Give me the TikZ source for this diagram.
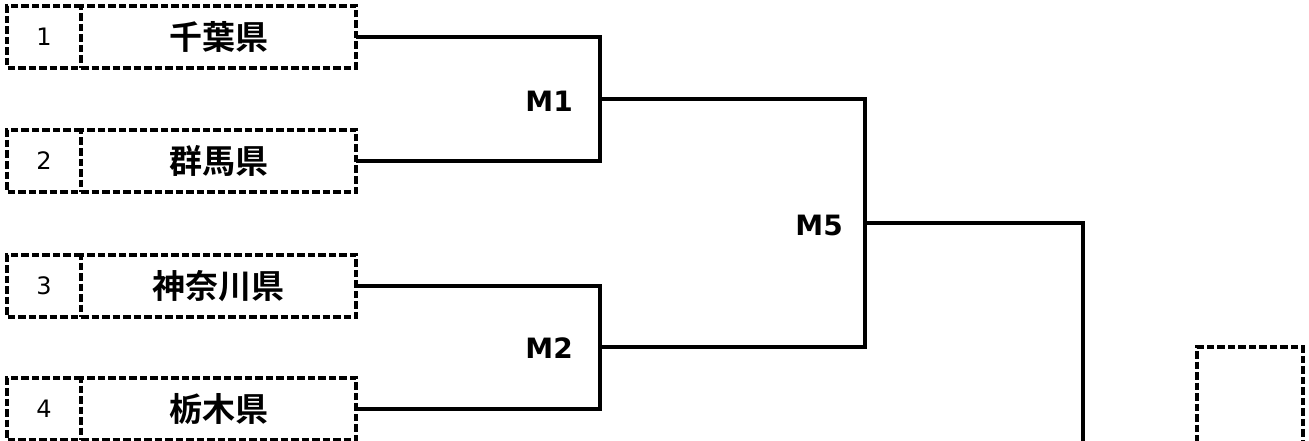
\documentclass[tikz,border=0pt]{standalone}
\usepackage{fontspec}
\setmainfont{DejaVu Sans}
\newfontfamily\jpfont{Noto Sans CJK JP}[BoldFont={* Bold}]
\begin{document}
\begin{tikzpicture}[x=1pt,y=-1pt,
  dashline/.style={draw=black,line width=3.2pt,dash pattern=on 7.5pt off 3pt},
  cell/.style={rectangle,inner sep=0pt,outer sep=0pt,minimum height=62pt,anchor=north west},
  numcell/.style={cell,minimum width=74pt,font=\fontsize{24}{24}\selectfont},
  namecell/.style={cell,dashline,minimum width=275pt,font=\fontsize{33}{33}\selectfont\jpfont\bfseries},
  wire/.style={draw=black,line width=3.2pt},
  mlabel/.style={anchor=east,inner sep=0pt,font=\fontsize{28}{28}\selectfont\bfseries}]
\useasboundingbox (0,0) rectangle (1309,441);
\begin{scope}
\clip (0,0) rectangle (1309,441);
% team boxes
\node[numcell] (c1) at (7,6) {1};
\node[namecell] (t1) at (81,6) {千葉県};
\node[numcell] (c2) at (7,130) {2};
\node[namecell] (t2) at (81,130) {群馬県};
\node[numcell] (c3) at (7,255) {3};
\node[namecell] (t3) at (81,255) {神奈川県};
\node[numcell] (c4) at (7,378) {4};
\node[namecell] (t4) at (81,378) {栃木県};
\foreach \i in {1,2,3,4}{
  \draw[dashline] (t\i.north west) -- (c\i.north west) -- (c\i.south west) -- (t\i.south west);
}
% bracket junctions
\coordinate (j1) at (600,99);
\coordinate (j2) at (600,347);
\coordinate (j5) at (865,223);
\coordinate (jf) at (1083,460);
\draw[wire] (t1.east) -| (j1) |- (t2.east);
\draw[wire] (t3.east) -| (j2) |- (t4.east);
\draw[wire] (j1) -| (j5) |- (j2);
\draw[wire] (j5) -| (jf);
% labels
\node[mlabel] (m1) at (573,101) {M1};
\node[mlabel] (m2) at (573,348) {M2};
\node[mlabel] (m5) at (843,225) {M5};
% final box
\node[cell,dashline,minimum width=106pt,minimum height=120pt] (w) at (1197,347) {};
\end{scope}
\end{tikzpicture}
\end{document}
